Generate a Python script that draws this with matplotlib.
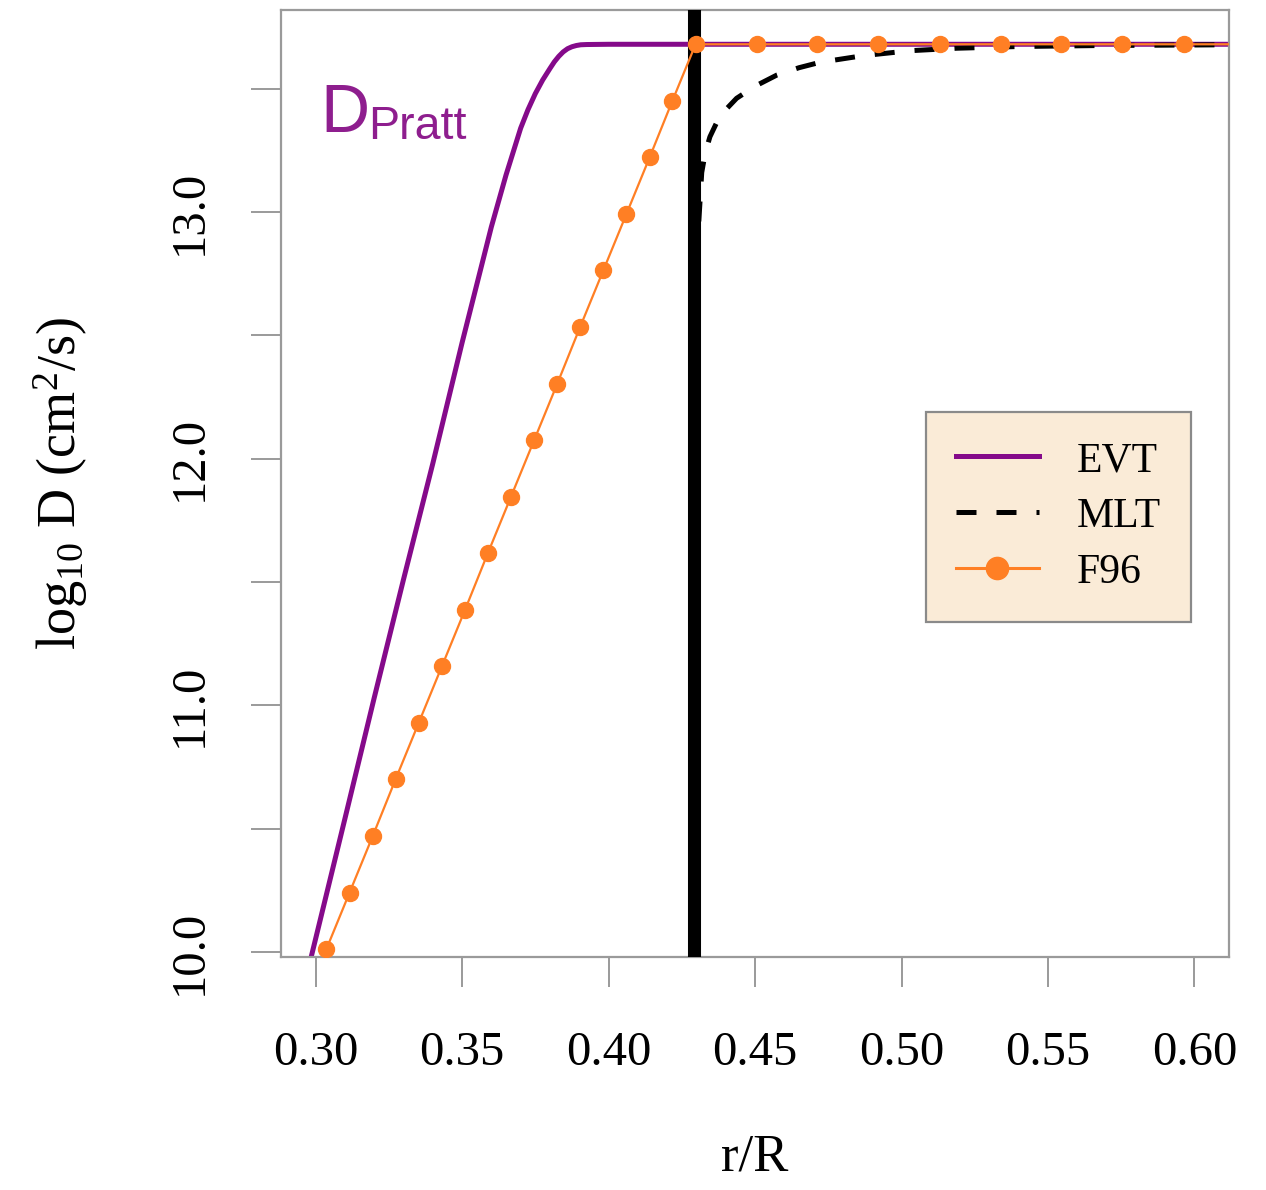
import matplotlib
matplotlib.use("Agg")
import matplotlib.pyplot as plt

# ---- data ----
# EVT profile
evt_r = [0.2985, 0.3100, 0.3200, 0.3300, 0.3400, 0.3500, 0.3600, 0.3650,
         0.3700, 0.3725, 0.3750, 0.3775, 0.3800, 0.3815, 0.3830, 0.3845,
         0.3860, 0.3875, 0.3890, 0.3905, 0.3925, 0.4000, 0.6120]
evt_logD = [9.98, 10.54, 11.03, 11.51, 11.98, 12.47, 12.94, 13.15,
            13.34, 13.415, 13.48, 13.535, 13.582, 13.609, 13.631, 13.649,
            13.662, 13.670, 13.675, 13.678, 13.679, 13.68, 13.68]

# MLT profile (starts at the boundary)
mlt_r = [0.4300, 0.4318, 0.4330, 0.4346, 0.4380, 0.4437, 0.4500, 0.4574,
         0.4650, 0.4722, 0.4870, 0.5030, 0.5189, 0.5400, 0.5680, 0.6120]
mlt_logD = [12.80, 13.16, 13.24, 13.305, 13.39, 13.461, 13.51, 13.555,
            13.585, 13.607, 13.634, 13.654, 13.664, 13.671, 13.675, 13.678]

# F96 profile (plotted points)
f96_r = [0.3037, 0.3116, 0.3195, 0.3273, 0.3352, 0.3431, 0.3510, 0.3588,
         0.3667, 0.3746, 0.3825, 0.3903, 0.3982, 0.4061, 0.4140, 0.4218,
         0.4297, 0.4505, 0.4713, 0.4921, 0.5130, 0.5338, 0.5546, 0.5754,
         0.5963]
f96_logD = [10.012, 10.241, 10.470, 10.700, 10.929, 11.158, 11.387, 11.617,
            11.846, 12.075, 12.304, 12.534, 12.763, 12.992, 13.221, 13.451,
            13.680, 13.680, 13.680, 13.680, 13.680, 13.680, 13.680, 13.680,
            13.680]
# the line itself runs slightly past the first / last point
f96_line_r = [0.2990] + f96_r + [0.6120]
f96_line_logD = [9.875] + f96_logD + [13.680]

r_boundary = 0.4293

x_ticks = [0.30, 0.35, 0.40, 0.45, 0.50, 0.55, 0.60]
x_ticklabels = ["0.30", "0.35", "0.40", "0.45", "0.50", "0.55", "0.60"]
y_ticks = [10.0, 10.5, 11.0, 11.5, 12.0, 12.5, 13.0, 13.5]
y_ticklabels = ["10.0", "", "11.0", "", "12.0", "", "13.0", ""]

# ---- style ----
plt.rcParams['font.family'] = ['Liberation Serif', 'DejaVu Serif']
plt.rcParams['mathtext.fontset'] = 'custom'
plt.rcParams['mathtext.rm'] = 'Liberation Serif'
plt.rcParams['mathtext.it'] = 'Liberation Serif:italic'

purple = '#850a8a'
orange = '#ff7f24'
frame_grey = '#9a9a9a'

fig = plt.figure(figsize=(12.66, 11.90), dpi=100)
ax = fig.add_axes([0.2220, 0.1958, 0.9708 - 0.2220, 0.9916 - 0.1958])

ax.plot(evt_r, evt_logD, color=purple, lw=3.6, label='EVT', zorder=2)
ax.plot(mlt_r, mlt_logD, color='black', lw=3.6, linestyle=(0, (4, 4)),
        label='MLT', zorder=2)
ax.axvline(r_boundary, color='black', lw=9.4, zorder=3)
ax.plot(f96_line_r, f96_line_logD, color=orange, lw=1.6, zorder=4)
ax.plot(f96_r, f96_logD, linestyle='none', marker='o', ms=11.5,
        color=orange, zorder=5)
# legend proxy for F96 (line + dot)
f96_proxy, = ax.plot([], [], color=orange, lw=2.2, marker='o', ms=16,
                     label='F96')

ax.set_xlim(0.28821, 0.61179)
ax.set_ylim(9.9797, 13.819)

ax.set_xticks(x_ticks)
ax.set_xticklabels(x_ticklabels)
ax.set_yticks(y_ticks)
ax.set_yticklabels(y_ticklabels, rotation=90, va='center')

ax.tick_params(axis='both', direction='out', length=21.6, width=1.4,
               color=frame_grey, labelsize=35)
ax.tick_params(axis='x', pad=32)
ax.tick_params(axis='y', pad=28)
for sp in ax.spines.values():
    sp.set_color(frame_grey)
    sp.set_linewidth(1.6)

ax.set_xlabel('r/R', fontsize=38, labelpad=42)
ax.set_ylabel(r'log$_{10}$ D (cm$^{2}$/s)', fontsize=39, labelpad=56)

# D_Pratt annotation
ax.text(0.3017, 13.324, 'D', color='#8e1e8e', fontsize=49,
        family=['Liberation Sans', 'DejaVu Sans'], va='baseline', ha='left')
ax.text(0.3178, 13.296, 'Pratt', color='#8e1e8e', fontsize=33.5,
        family=['Liberation Sans', 'DejaVu Sans'], va='baseline', ha='left')

leg = ax.legend(loc='upper left', bbox_to_anchor=(0.680, 0.5760),
                borderaxespad=0,
                fontsize=30, frameon=True, fancybox=False,
                facecolor='#faebd7', edgecolor='#8a8a8a', framealpha=1,
                handlelength=2.0, handletextpad=0.9, borderpad=0.72,
                labelspacing=0.42, numpoints=1)
leg.get_frame().set_linewidth(1.6)

fig.savefig('out.png', dpi=100)
